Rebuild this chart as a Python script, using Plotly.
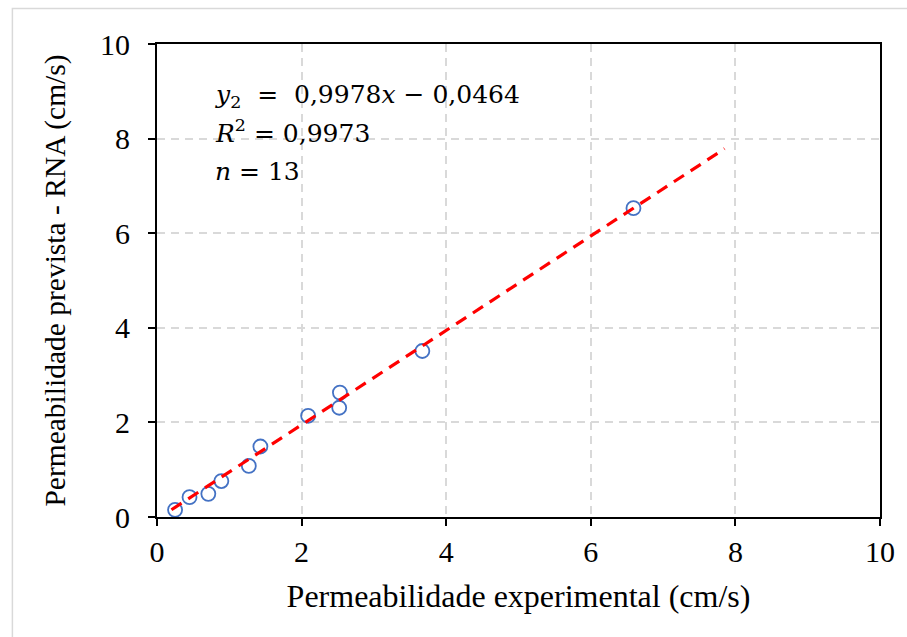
import plotly.graph_objects as go

# Data
exp_x = [0.25, 0.45, 0.71, 0.89, 1.27, 1.43, 2.09, 2.52, 2.53, 3.67, 6.59]
pred_y = [0.15, 0.42, 0.49, 0.76, 1.08, 1.49, 2.14, 2.31, 2.63, 3.51, 6.53]

slope = 0.9978
intercept = -0.0464
fit_x = [0.2, 7.85]
fit_y = [slope * v + intercept for v in fit_x]

tick_vals = [0, 2, 4, 6, 8, 10]

SERIF = "Liberation Serif"

fig = go.Figure()
fig.add_trace(go.Scatter(
    x=exp_x, y=pred_y, mode="markers",
    marker=dict(symbol="circle-open", size=14, color="#4472C4",
                line=dict(width=1.8, color="#4472C4")),
    showlegend=False, cliponaxis=False))
fig.add_trace(go.Scatter(
    x=fit_x, y=fit_y, mode="lines",
    line=dict(color="#FF0000", width=3.2, dash="12px,8px"),
    showlegend=False))

axis_common = dict(
    range=[0, 10], tickvals=tick_vals, showgrid=True,
    gridcolor="#D9D9D9", griddash="8px,6px", gridwidth=1.5,
    showline=True, linecolor="black", linewidth=2, mirror=True,
    ticks="outside", ticklen=7, tickwidth=1.5, tickcolor="black",
    tickfont=dict(family=SERIF, size=30, color="black"),
    zeroline=False,
)

fig.update_xaxes(**axis_common, ticklabelstandoff=0,
                 title=dict(text="Permeabilidade experimental (cm/s)",
                            font=dict(family=SERIF, size=32, color="black"),
                            standoff=18))
fig.update_yaxes(**axis_common, ticklabelstandoff=12,
                 title=dict(text="Permeabilidade prevista - RNA (cm/s)",
                            font=dict(family=SERIF, size=29.5, color="black"),
                            standoff=26))

EQF = dict(family="DejaVu Serif", size=25, color="black")
lines = [
    "<i>y</i><sub>2</sub>  =  0,9978<i>x</i> − 0,0464",
    "<i>R</i><sup>2</sup> = 0,9973",
    "<i>n</i> = 13",
]
ys = [0.89, 0.815, 0.73]
for t, yy in zip(lines, ys):
    fig.add_annotation(text=t, xref="paper", yref="paper", x=0.077, y=yy,
                       xanchor="left", yanchor="middle", showarrow=False,
                       font=EQF)

fig.add_shape(type="rect", xref="paper", yref="paper",
              x0=-0.2, x1=1.1, y0=-0.4, y1=1.075,
              line=dict(color="#D9D9D9", width=1.5), layer="below")

fig.update_layout(
    width=907, height=637,
    margin=dict(l=157, r=25, t=44, b=120),
    paper_bgcolor="white", plot_bgcolor="white",
)

fig.write_html("out.html")
